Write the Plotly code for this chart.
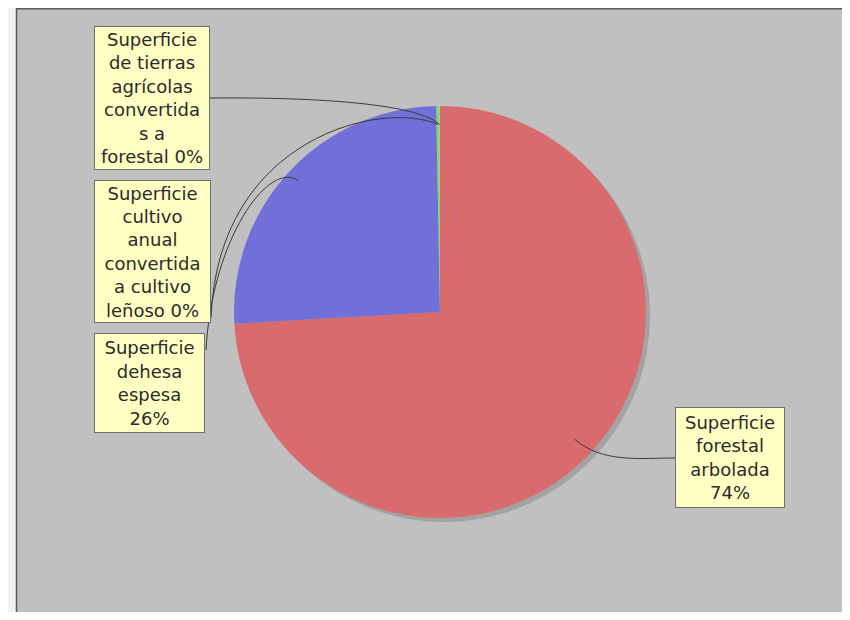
import math
import plotly.graph_objects as go

# ---------------- data ----------------
categories = [
    "Superficie forestal arbolada",
    "Superficie dehesa espesa",
    "Superficie cultivo anual convertida a cultivo leñoso",
    "Superficie de tierras agrícolas convertidas a forestal",
]
values = [74.1, 25.6, 0.25, 0.05]
label_templates = [
    "Superficie<br>forestal<br>arbolada<br>{pct}%",
    "Superficie<br>dehesa<br>espesa<br>{pct}%",
    "Superficie<br>cultivo<br>anual<br>convertida<br>a cultivo<br>leñoso {pct}%",
    "Superficie<br>de tierras<br>agrícolas<br>convertida<br>s a<br>forestal {pct}%",
]
colors = ["#D76B6D", "#7070D8", "#7CD87C", "#D8D870"]

# ---------------- geometry (page pixels) ----------------
OFF = 8  # page body margin: figure starts 8px right/down of the page origin
W, H = 850 - OFF, 620 - 2 * OFF  # fit inside the window without scrollbars
cx, cy, R = 440, 312, 206
SH = 4  # shadow offset

def X(p):
    return (p - OFF) / W

def Y(p):
    return 1 - (p - OFF) / H

total = sum(values)
pcts = [round(v / total * 100) for v in values]

fig = go.Figure()

# shadow pie
fig.add_trace(go.Pie(
    values=values, labels=categories, sort=False, direction="clockwise", rotation=0,
    marker=dict(colors=["#A3A3A3"] * len(values), line=dict(width=0)),
    textinfo="none", hoverinfo="skip", showlegend=False,
    domain=dict(x=[X(cx - R + SH), X(cx + R + SH)], y=[Y(cy + R + SH), Y(cy - R + SH)]),
))
# main pie
fig.add_trace(go.Pie(
    values=values, labels=categories, sort=False, direction="clockwise", rotation=0,
    marker=dict(colors=colors, line=dict(width=0)),
    textinfo="none", hoverinfo="label+percent", showlegend=False,
    domain=dict(x=[X(cx - R), X(cx + R)], y=[Y(cy + R), Y(cy - R)]),
))

# anchor points from slice mid-angles (clockwise from 12 o'clock)
anchors = []
cum = 0.0
for v in values:
    mid = (cum + v / 2) / total * 2 * math.pi
    cum += v
    anchors.append(mid)

def anchor_pt(i, k):
    a = anchors[i]
    return (cx + k * R * math.sin(a), cy - k * R * math.cos(a))

# label boxes: left, top, width, height (page pixels)
boxes = [
    (675, 407, 110, 101),
    (94, 333, 111, 100),
    (94, 180, 117, 143),
    (94, 26, 116, 144),
]

bw, pad = 1, 1
BORDER = "#5A5A5A"
shapes = [
    # light strip on the left, outside the chart panel
    dict(type="rect", xref="paper", yref="paper", x0=X(8), x1=X(16), y0=0, y1=1,
         fillcolor="#F2F2F2", line=dict(width=0), layer="below"),
    # panel borders
    dict(type="line", xref="paper", yref="paper", x0=X(16.5), x1=X(16.5), y0=0, y1=1,
         line=dict(color=BORDER, width=1.5), layer="below"),
    dict(type="line", xref="paper", yref="paper", x0=X(16), x1=1, y0=Y(8.7), y1=Y(8.7),
         line=dict(color=BORDER, width=1.5), layer="below"),
]

# connector curves (cubic bezier): anchor -> controls -> box edge
A0 = anchor_pt(0, 0.9)
A1 = anchor_pt(1, 0.94)
A2 = anchor_pt(2, 0.91)
A3 = anchor_pt(3, 0.91)
curves = [
    (A0, (A0[0] + 28, A0[1] + 24), (640, 458), (675, 458)),
    (A1, (A1[0] - 30, A1[1] - 20), (212, 240), (206, 350)),
    (A2, (385, 100), (218, 135), (211, 318)),
    (A3, (418, 104), (320, 97), (210, 98)),
]
for p0, c1, c2, p1 in curves:
    path = "M {} {} C {} {}, {} {}, {} {}".format(
        X(p0[0]), Y(p0[1]), X(c1[0]), Y(c1[1]), X(c2[0]), Y(c2[1]), X(p1[0]), Y(p1[1]))
    shapes.append(dict(type="path", xref="paper", yref="paper", path=path,
                       line=dict(color="#3A3A3A", width=1), layer="above"))

annotations = []
for i, (l, t, w, h) in enumerate(boxes):
    annotations.append(dict(
        xref="paper", yref="paper", x=X(l), y=Y(t), xanchor="left", yanchor="top",
        text=label_templates[i].format(pct=pcts[i]), showarrow=False, align="center",
        width=w - 2 * (bw + pad), height=h - 2 * (bw + pad),
        bgcolor="#FFFFC4", bordercolor="#6E6E6E", borderwidth=bw, borderpad=pad,
        font=dict(family="DejaVu Sans", size=18, color="#2B2B2B"),
    ))

fig.update_layout(
    width=W, height=H, margin=dict(l=0, r=0, t=0, b=0),
    paper_bgcolor="#C0C0C0", shapes=shapes, annotations=annotations,
    showlegend=False,
)

fig.write_html("out.html")
